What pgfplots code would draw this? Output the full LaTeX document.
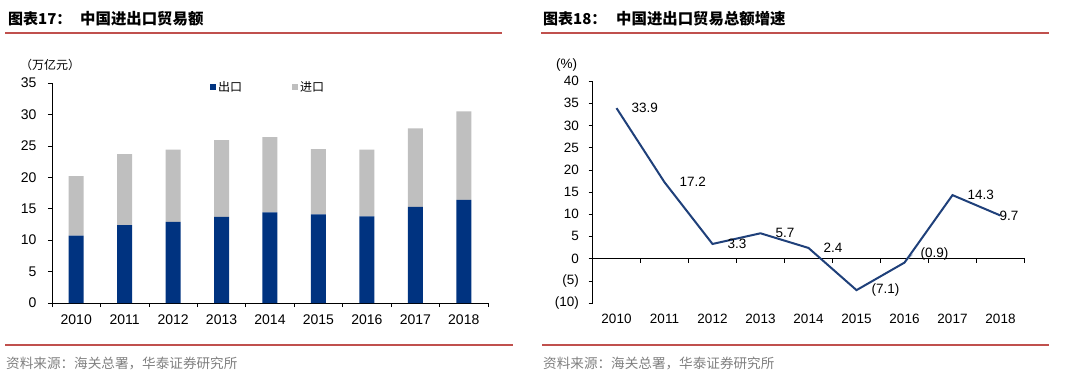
\documentclass[border=0pt]{standalone}
\usepackage{fontspec}
\usepackage{pgfplots}
\pgfplotsset{compat=1.18}
\setmainfont{Liberation Sans}
\newfontfamily\cjk{Noto Sans CJK SC}
\definecolor{navy}{RGB}{0,51,128}
\definecolor{lgray}{RGB}{191,191,191}
\definecolor{linecol}{RGB}{31,64,122}
\definecolor{redline}{RGB}{192,80,77}
\definecolor{srcgray}{RGB}{128,128,128}
\definecolor{leader}{RGB}{160,175,195}
\begin{document}
\begin{tikzpicture}
\path[use as bounding box] (0pt,0pt) rectangle (1068pt,-383pt);
% titles
\node[anchor=west,inner sep=0] at (8pt,-19pt) {\cjk\bfseries\fontsize{15}{17}\selectfont 图表17：};
\node[anchor=west,inner sep=0] at (80pt,-19pt) {\cjk\bfseries\fontsize{15.4}{17}\selectfont 中国进出口贸易额};
\node[anchor=west,inner sep=0] at (543pt,-19pt) {\cjk\bfseries\fontsize{15}{17}\selectfont 图表18：};
\node[anchor=west,inner sep=0] at (616pt,-19pt) {\cjk\bfseries\fontsize{15.4}{17}\selectfont 中国进出口贸易总额增速};
\draw[redline,line width=1.5pt] (5pt,-33pt) -- (502pt,-33pt);
\draw[redline,line width=1.5pt] (541pt,-33pt) -- (1049pt,-33pt);
\draw[redline,line width=1.5pt] (5pt,-345pt) -- (513pt,-345pt);
\draw[redline,line width=1.5pt] (542pt,-345pt) -- (1049pt,-345pt);
\node[anchor=west,inner sep=0,text=srcgray] at (6pt,-363pt) {\cjk\fontsize{13.6}{15}\selectfont 资料来源：海关总署，华泰证券研究所};
\node[anchor=west,inner sep=0,text=srcgray] at (543pt,-363pt) {\cjk\fontsize{13.6}{15}\selectfont 资料来源：海关总署，华泰证券研究所};
\node[anchor=west,inner sep=0] at (20pt,-65pt) {\cjk\fontsize{12}{14}\selectfont （万亿元）};
\node[anchor=west,inner sep=0] at (556pt,-65pt) {\fontsize{13.5}{15}\selectfont (\%)};

% left chart
\begin{axis}[at={(52pt,-303pt)}, anchor=south west, scale only axis,
  width=436pt, height=220pt,
  xmin=-0.5, xmax=8.5, ymin=0, ymax=35,
  ytick={0,5,...,35},
  xtick={0,...,8}, xticklabels={2010,2011,2012,2013,2014,2015,2016,2017,2018},
  minor xtick={-0.5,0.5,...,8.5},
  axis x line*=bottom, axis y line*=left,
  axis line style={-,black,line width=0.6pt},
  tick style={black,line width=0.6pt},
  tick align=outside, major tick length=4pt, minor tick length=4pt,
  major x tick style={draw=none},
  ticklabel style={font=\fontsize{14}{16}\selectfont},
  xticklabel style={yshift=-4pt},
  yticklabel style={xshift=-8pt},
  /pgf/number format/assume math mode=true,
  ybar stacked, bar width=15pt,
  legend columns=2,
  legend style={draw=none, fill=none, at={(0.362,0.982)}, anchor=west, inner sep=0pt,
    font=\cjk\fontsize{12}{14}\selectfont,
    /tikz/every even column/.append style={column sep=48pt}},
  legend image code/.code={\fill[#1] (0pt,-3pt) rectangle (6pt,3pt);},
]
\addplot[fill=navy, draw=none] coordinates {(0,10.7) (1,12.4) (2,12.9) (3,13.7) (4,14.4) (5,14.1) (6,13.8) (7,15.3) (8,16.4)};
\addlegendentry{出口}
\addplot[fill=lgray, draw=none] coordinates {(0,9.5) (1,11.3) (2,11.5) (3,12.2) (4,12.0) (5,10.4) (6,10.6) (7,12.5) (8,14.1)};
\addlegendentry{进口}
\end{axis}

% right chart
\begin{axis}[at={(592.5pt,-303pt)}, anchor=south west, scale only axis,
  width=432pt, height=222pt,
  xmin=-0.5, xmax=8.5, ymin=-10, ymax=40,
  ytick={-10,-5,...,40},
  yticklabels={(10),(5),0,5,10,15,20,25,30,35,40},
  xtick={0,...,8}, xticklabels={2010,2011,2012,2013,2014,2015,2016,2017,2018},
  axis x line*=bottom, axis y line*=left,
  x axis line style={draw=none},
  y axis line style={-,black,line width=0.6pt},
  tick style={black,line width=0.6pt},
  tick align=outside, major tick length=4pt,
  major x tick style={draw=none},
  ticklabel style={font=\fontsize{13.5}{15}\selectfont},
  xticklabel style={yshift=-4pt},
  yticklabel style={xshift=-6pt},
  /pgf/number format/assume math mode=true,
  clip=false,
]
\draw[black,line width=0.6pt] (axis cs:-0.5,0) -- (axis cs:8.5,0);
\pgfplotsinvokeforeach{-0.5,0.5,1.5,2.5,3.5,4.5,5.5,6.5,7.5,8.5}{\draw[black,line width=0.6pt] (axis cs:#1,0) -- ([yshift=-4pt]axis cs:#1,0);}
\draw[leader,line width=0.8pt] ([xshift=2pt,yshift=2pt]axis cs:6,-0.9) -- ([xshift=8pt,yshift=8pt]axis cs:6,-0.9);
\addplot[linecol, line width=2pt, mark=none] coordinates {(0,33.9) (1,17.2) (2,3.3) (3,5.7) (4,2.4) (5,-7.1) (6,-0.9) (7,14.3) (8,9.7)};
\addplot[draw=none, mark=none, nodes near coords, point meta=explicit symbolic,
  nodes near coords style={anchor=west, inner sep=0pt, xshift=15pt, font=\fontsize{13.5}{15}\selectfont, text=black}]
  coordinates {(0,33.9)[33.9] (1,17.2)[17.2] (2,3.3)[3.3] (3,5.7)[5.7] (4,2.4)[2.4] (5,-7.1)[(7.1)] (7,14.3)[14.3]};
\addplot[draw=none, mark=none, nodes near coords, point meta=explicit symbolic,
  nodes near coords style={anchor=west, inner sep=0pt, xshift=16pt, yshift=9pt, font=\fontsize{13.5}{15}\selectfont, text=black}]
  coordinates {(6,-0.9)[(0.9)]};
\addplot[draw=none, mark=none, nodes near coords, point meta=explicit symbolic,
  nodes near coords style={anchor=west, inner sep=0pt, xshift=-1pt, font=\fontsize{13.5}{15}\selectfont, text=black}]
  coordinates {(8,9.7)[9.7]};
\end{axis}
\end{tikzpicture}
\end{document}
